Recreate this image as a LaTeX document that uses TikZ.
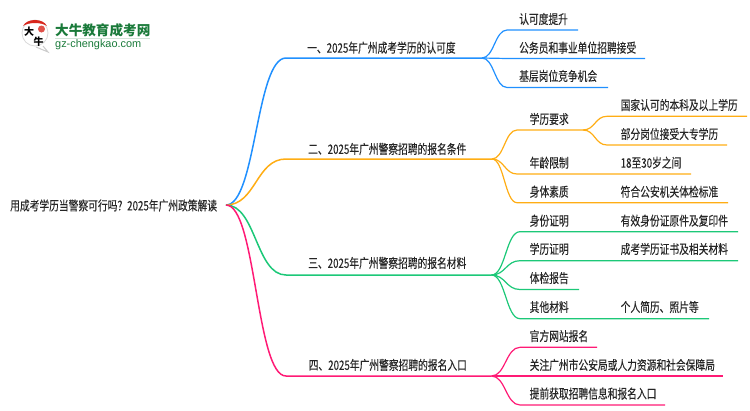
\documentclass[tikz,border=0pt]{standalone}
\usepackage{fontspec}
\newfontfamily\cjk[FakeStretch=0.75,FakeBold=0.12]{Noto Sans CJK SC}
\newfontfamily\logocjk{Noto Sans CJK SC}
\newfontfamily\logolatin{Liberation Sans}
\definecolor{mapblue}{HTML}{2090FF}
\definecolor{maporange}{HTML}{FFAD14}
\definecolor{mapgreen}{HTML}{1CC878}
\definecolor{mappink}{HTML}{FF1A75}
\definecolor{logogreen}{HTML}{1A7A3A}
\definecolor{logored}{HTML}{D8261C}
\tikzset{
  x=1pt,y=-1pt,
  topic/.style={anchor=west,inner sep=0pt,font=\fontsize{13}{13}\cjk,text=black!85},
  seal/.style={inner sep=0pt,font=\fontsize{10}{10}\logocjk\bfseries},
  link/.style={out=0,in=180,distance=#1},
  main/.style={line width=1.5pt},
  sub/.style={line width=1.2pt},
}
\begin{document}
\begin{tikzpicture}
  \useasboundingbox (0,0) rectangle (750,410);
  % logo
  \draw[black!20,line width=1pt,fill=white] (43,46) -- (48,52) -- (36,47);
  \draw[black!15,line width=.8pt,fill=white] (35,33) circle[radius=13];
  \fill[logored] (23,26) .. controls (27,18) and (43,18) .. (47,26) .. controls (41,22) and (29,22) .. (23,26);
  \fill[logored!80] (41.5,29) circle[radius=3.5];
  \path
    (29,32) node[seal] (logoda){大}
    (38.5,41.5) node[seal] (logoniu){牛}
    (55,30) node[anchor=west,inner sep=0pt,text=logogreen,font=\fontsize{13.6}{14}\logocjk\bfseries] (logoname){大牛教育成考网}
    (55,45) node[anchor=west,inner sep=0pt,text=logogreen,font=\fontsize{10.9}{12}\logolatin] (logourl){gz-chengkao.com};
  \draw[logogreen!20,line width=1pt] (logoname.west |- 0,38.7) -- (150,38.7);
  % nodes
  \path
    (10,205.5) node[topic] (root){用成考学历当警察可行吗？2025年广州政策解读}
    (226,205) coordinate (rootj);
  \path
    (286,58) coordinate (as) (482,58) coordinate (aj)
    (307,47.7) node[topic] (a){一、2025年广州成考学历的认可度}
    (507,30) coordinate (a1s) (578,30) coordinate (a1e)
    (519,19) node[topic] (a1){认可度提升}
    (507,58.5) coordinate (a2s) (645,58.5) coordinate (a2e)
    (519,47.7) node[topic] (a2){公务员和事业单位招聘接受}
    (507,87.5) coordinate (a3s) (608,87.5) coordinate (a3e)
    (519,76) node[topic] (a3){基层岗位竞争机会};
  \path
    (286,159) coordinate (bs) (492,159) coordinate (bj)
    (308,149) node[topic] (b){二、2025年广州警察招聘的报名条件}
    (517,130) coordinate (b1s) (583,130) coordinate (b1e)
    (529.5,119) node[topic] (b1){学历要求}
    (607,116.3) coordinate (b11s) (747,116.3) coordinate (b11e)
    (620.5,105) node[topic] (b11){国家认可的本科及以上学历}
    (607,145) coordinate (b12s) (727,145) coordinate (b12e)
    (620.5,134) node[topic] (b12){部分岗位接受大专学历}
    (517,174) coordinate (b2s) (691,174) coordinate (b2e)
    (529.5,162.7) node[topic] (b2){年龄限制}
    (620.5,162.7) node[topic] (b21){18至30岁之间}
    (517,202.7) coordinate (b3s) (728,202.7) coordinate (b3e)
    (529.5,191.7) node[topic] (b3){身体素质}
    (620.5,191.7) node[topic] (b31){符合公安机关体检标准};
  \path
    (286,275) coordinate (cs) (491.5,275) coordinate (cj)
    (308,263) node[topic] (c){三、2025年广州警察招聘的报名材料}
    (520,231.7) coordinate (c1s) (738,231.7) coordinate (c1e)
    (529.5,220.7) node[topic] (c1){身份证明}
    (620.5,220.7) node[topic] (c11){有效身份证原件及复印件}
    (520,260.7) coordinate (c2s) (738,260.7) coordinate (c2e)
    (529.5,249) node[topic] (c2){学历证明}
    (620.5,249) node[topic] (c21){成考学历证书及相关材料}
    (520,289.5) coordinate (c3s) (579,289.5) coordinate (c3e)
    (529.5,278) node[topic] (c3){体检报告}
    (520,318.7) coordinate (c4s) (709,318.7) coordinate (c4e)
    (529.5,307) node[topic] (c4){其他材料}
    (620.5,307) node[topic] (c41){个人简历、照片等};
  \path
    (286,376) coordinate (ds) (491.5,376) coordinate (dj)
    (308.5,365) node[topic] (d){四、2025年广州警察招聘的报名入口}
    (520,347.3) coordinate (d1s) (597,347.3) coordinate (d1e)
    (529.5,336) node[topic] (d1){官方网站报名}
    (520,376) coordinate (d2s) (723,376) coordinate (d2e)
    (529.5,365) node[topic] (d2){关注广州市公安局或人力资源和社会保障局}
    (520,405) coordinate (d3s) (665,405) coordinate (d3e)
    (529.5,393.5) node[topic] (d3){提前获取招聘信息和报名入口};
  % connectors
  \begin{scope}[mapblue]
    \draw[main] (rootj) to[link=30pt] (as) -- (aj);
    \draw[sub] (aj) to[link=12pt] (a1s) -- (a1e);
    \draw[sub] (aj) to[link=12pt] (a2s) -- (a2e);
    \draw[sub] (aj) to[link=12pt] (a3s) -- (a3e);
  \end{scope}
  \begin{scope}[maporange]
    \draw[main] (rootj) to[link=30pt] (bs) -- (bj);
    \draw[sub] (bj) to[link=12pt] (b1s) -- (b1e);
    \draw[sub] (b1e) to[link=12pt] (b11s) -- (b11e);
    \draw[sub] (b1e) to[link=12pt] (b12s) -- (b12e);
    \draw[sub] (bj) to[link=12pt] (b2s) -- (b2e);
    \draw[sub] (bj) to[link=12pt] (b3s) -- (b3e);
  \end{scope}
  \begin{scope}[mapgreen]
    \draw[main] (rootj) to[link=30pt] (cs) -- (cj);
    \draw[sub] (cj) to[link=14pt] (c1s) -- (c1e);
    \draw[sub] (cj) to[link=14pt] (c2s) -- (c2e);
    \draw[sub] (cj) to[link=14pt] (c3s) -- (c3e);
    \draw[sub] (cj) to[link=14pt] (c4s) -- (c4e);
  \end{scope}
  \begin{scope}[mappink]
    \draw[main] (rootj) to[link=30pt] (ds) -- (dj);
    \draw[sub] (dj) to[link=14pt] (d1s) -- (d1e);
    \draw[sub] (dj) to[link=14pt] (d2s) -- (d2e);
    \draw[sub] (dj) to[link=14pt] (d3s) -- (d3e);
  \end{scope}
\end{tikzpicture}
\end{document}
